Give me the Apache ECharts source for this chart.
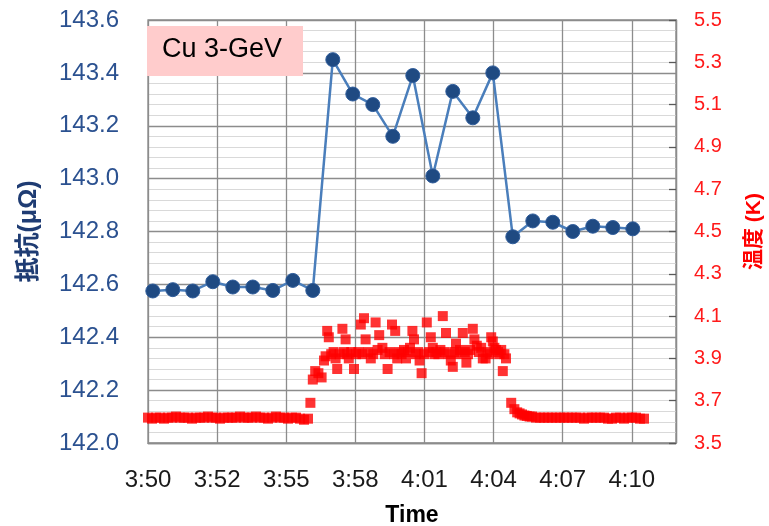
<!DOCTYPE html>
<html>
<head>
<meta charset="utf-8">
<script src="https://cdn.jsdelivr.net/npm/echarts@6/dist/echarts.min.js"></script>
<style>
html,body{margin:0;padding:0;background:#fff;}
#chart{width:769px;height:526px;}
</style>
</head>
<body>
<div id="chart"></div>
<script>
// x-axis tick labels (Excel date axis, step 0.002 day = 2.88 min, start 3:50)
var tickLabels = ['3:50','3:52','3:55','3:58','4:01','4:04','4:07','4:10'];

// Resistance series (μΩ)
var resTimes = ['3:50:12','3:51:02','3:51:52','3:52:42','3:53:32','3:54:22','3:55:12','3:56:02','3:56:52',
  '3:57:42','3:58:32','3:59:22','4:00:12','4:01:02','4:01:52','4:02:42','4:03:32','4:04:22',
  '4:05:12','4:06:02','4:06:52','4:07:42','4:08:32','4:09:22','4:10:12'];
var resValues = [142.575,142.58,142.575,142.61,142.59,142.59,142.577,142.615,142.577,
  143.45,143.32,143.28,143.16,143.39,143.01,143.33,143.23,143.40,
  142.78,142.84,142.835,142.80,142.82,142.815,142.81];

// Temperature series (K)
var tempTimes = [
  '3:50:00','3:50:10','3:50:20','3:50:30','3:50:40','3:50:50',
  '3:51:00','3:51:10','3:51:20','3:51:30','3:51:40','3:51:50',
  '3:52:00','3:52:10','3:52:20','3:52:30','3:52:40','3:52:50',
  '3:53:00','3:53:10','3:53:20','3:53:30','3:53:40','3:53:50',
  '3:54:00','3:54:10','3:54:20','3:54:30','3:54:40','3:54:50',
  '3:55:00','3:55:10','3:55:20','3:55:30','3:55:40','3:55:50',
  '3:56:00','3:56:10','3:56:20','3:56:30','3:56:40',
  '3:56:46','3:56:52','3:56:58','3:57:06','3:57:14','3:57:20','3:57:24','3:57:28','3:57:32','3:57:38',
  '3:57:44','3:57:49','3:57:53','3:57:59','3:58:06','3:58:10','3:58:14','3:58:18','3:58:22','3:58:28',
  '3:58:35','3:58:40','3:58:46','3:58:52','3:58:56','3:59:00','3:59:04','3:59:10','3:59:17','3:59:23',
  '3:59:29','3:59:34','3:59:38','3:59:46','3:59:52','3:59:59','4:00:04','4:00:10','4:00:15','4:00:18',
  '4:00:23','4:00:28','4:00:34','4:00:40','4:00:45','4:00:50','4:00:55','4:01:01','4:01:05','4:01:10',
  '4:01:15','4:01:19','4:01:24','4:01:30','4:01:37','4:01:42','4:01:47','4:01:52','4:01:56','4:02:01',
  '4:02:06','4:02:11','4:02:17','4:02:21','4:02:25','4:02:30','4:02:37','4:02:42','4:02:46','4:02:50',
  '4:02:55','4:03:00','4:03:07','4:03:12','4:03:16','4:03:20','4:03:25','4:03:32','4:03:36','4:03:42',
  '4:03:47','4:03:53','4:03:57','4:04:04','4:04:09','4:04:14','4:04:18','4:04:22','4:04:26','4:04:30',
  '4:04:35','4:04:39','4:04:43','4:04:47','4:04:51','4:04:55',
  '4:05:08','4:05:16','4:05:23','4:05:29','4:05:35','4:05:41','4:05:47','4:05:54',
  '4:06:00','4:06:10','4:06:20','4:06:30','4:06:40','4:06:50',
  '4:07:00','4:07:10','4:07:20','4:07:30','4:07:40','4:07:50',
  '4:08:00','4:08:10','4:08:20','4:08:30','4:08:40','4:08:50',
  '4:09:00','4:09:10','4:09:20','4:09:30','4:09:40','4:09:50',
  '4:10:00','4:10:10','4:10:20','4:10:30','4:10:40'];
var tempValues = [
  3.62,3.615,3.62,3.62,3.615,3.62,
  3.62,3.625,3.62,3.62,3.62,3.615,
  3.62,3.62,3.62,3.625,3.62,3.62,
  3.615,3.62,3.62,3.62,3.62,3.625,
  3.62,3.62,3.62,3.625,3.62,3.62,
  3.615,3.62,3.625,3.62,3.62,3.615,
  3.62,3.62,3.615,3.61,3.615,
  3.69,3.80,3.84,3.83,3.81,3.89,3.91,4.03,4.00,3.92,
  3.93,3.90,3.85,3.92,4.04,3.93,3.99,3.92,3.90,3.93,
  3.85,3.92,3.93,4.06,3.92,4.09,3.99,3.93,3.90,3.92,
  4.07,3.94,4.01,3.95,3.92,3.85,3.93,4.06,3.92,4.03,
  3.90,3.93,3.92,3.94,3.90,3.93,3.95,4.03,3.99,3.92,
  3.93,3.89,3.83,3.92,4.07,3.93,4.00,3.95,3.92,3.93,
  3.92,3.94,4.10,3.93,4.02,3.92,3.89,3.86,3.93,3.97,
  3.92,3.94,4.02,3.93,3.88,3.92,3.94,4.04,3.99,3.96,
  3.93,3.95,3.90,3.90,3.93,3.92,4.00,3.98,3.95,3.94,
  3.93,3.92,3.94,3.84,3.92,3.90,
  3.69,3.66,3.645,3.64,3.635,3.63,3.628,3.625,
  3.625,3.62,3.62,3.62,3.62,3.62,
  3.62,3.62,3.62,3.62,3.62,3.62,
  3.62,3.615,3.62,3.62,3.62,3.62,
  3.62,3.615,3.615,3.62,3.62,3.615,
  3.62,3.62,3.62,3.615,3.615];

var START_MIN = 3 * 60 + 50;   // 3:50
var STEP = 2.88;               // minutes between axis labels

function toMin(t) {
  var p = t.split(':');
  return (+p[0]) * 60 + (+p[1]) + (+p[2]) / 60 - START_MIN;
}
var resData = resTimes.map(function (t, i) { return [toMin(t), resValues[i]]; });
var tempData = tempTimes.map(function (t, i) { return [toMin(t), tempValues[i]]; });

var FONT = '"Liberation Sans", Arial, "Noto Sans CJK JP", sans-serif';
var chart = echarts.init(document.getElementById('chart'), null, {renderer: 'canvas'});
chart.setOption({
  animation: false,
  backgroundColor: '#ffffff',
  textStyle: {fontFamily: FONT},
  grid: {left: 148, right: 93, top: 20, bottom: 83, containLabel: false, outerBoundsMode: 'none',
    show: true, borderColor: '#8c8c8c', borderWidth: 1.3},
  xAxis: {
    type: 'value', min: 0, max: 22, interval: STEP,
    axisLine: {show: true, lineStyle: {color: '#8c8c8c', width: 1.3}},
    axisTick: {show: false},
    splitLine: {show: true, lineStyle: {color: '#8c8c8c', width: 1.3}},
    axisLabel: {
      showMaxLabel: false, margin: 25, color: '#1a1a1a', fontSize: 24, fontFamily: FONT,
      formatter: function (v) { var k = Math.round(v / STEP); return tickLabels[k] || ''; }
    },
    name: 'Time', nameLocation: 'middle', nameGap: 61,
    nameTextStyle: {fontSize: 23, fontWeight: 'bold', color: '#000', fontFamily: FONT}
  },
  yAxis: [{
    type: 'value', min: 142, max: 143.6, interval: 0.2, position: 'left',
    axisLine: {show: false}, axisTick: {show: false},
    splitLine: {show: true, lineStyle: {color: '#8c8c8c', width: 1.3}},
    minorTick: {show: false, splitNumber: 5},
    minorSplitLine: {show: true, lineStyle: {color: '#d9d9d9', width: 1}},
    axisLabel: {margin: 29, color: '#2b5190', fontSize: 24, fontFamily: FONT,
      formatter: function (v) { return v.toFixed(1); }},
    name: '抵抗(μΩ)', nameLocation: 'middle', nameGap: 106, nameRotate: 90,
    nameTextStyle: {fontSize: 25, fontWeight: 'bold', color: '#1f3c73', fontFamily: FONT}
  }, {
    type: 'value', min: 3.5, max: 5.5, interval: 0.2, position: 'right',
    axisLine: {show: true, lineStyle: {color: '#8c8c8c', width: 1.3}},
    axisTick: {show: true, inside: true, length: 7, lineStyle: {color: '#595959', width: 1.3}},
    splitLine: {show: false},
    axisLabel: {margin: 18, color: '#ff1a1a', fontSize: 20, fontFamily: FONT,
      formatter: function (v) { return v.toFixed(1); }},
    name: '温度 (K)', nameLocation: 'middle', nameGap: 68, nameRotate: 90,
    nameTextStyle: {fontSize: 21, fontWeight: 'bold', color: '#ff0000', fontFamily: FONT}
  }],
  graphic: [{
    type: 'rect', left: 147, top: 26, z: 10,
    shape: {width: 156, height: 50},
    style: {fill: '#ffcccc'}
  }, {
    type: 'text', left: 162, top: 36, z: 11,
    style: {text: 'Cu 3-GeV', fill: '#000', font: '27px "Liberation Sans", Arial, sans-serif'}
  }],
  series: [{
    name: 'temp', type: 'scatter', yAxisIndex: 1, data: tempData,
    symbol: 'rect', symbolSize: 10,
    itemStyle: {color: '#ff0000'}, z: 2
  }, {
    name: 'res', type: 'line', yAxisIndex: 0, data: resData,
    symbol: 'circle', symbolSize: 14,
    lineStyle: {color: '#4a7ebb', width: 2.5},
    itemStyle: {color: '#1f4a82', borderColor: '#2f5c9a', borderWidth: 1},
    z: 3
  }]
});
</script>
</body>
</html>
